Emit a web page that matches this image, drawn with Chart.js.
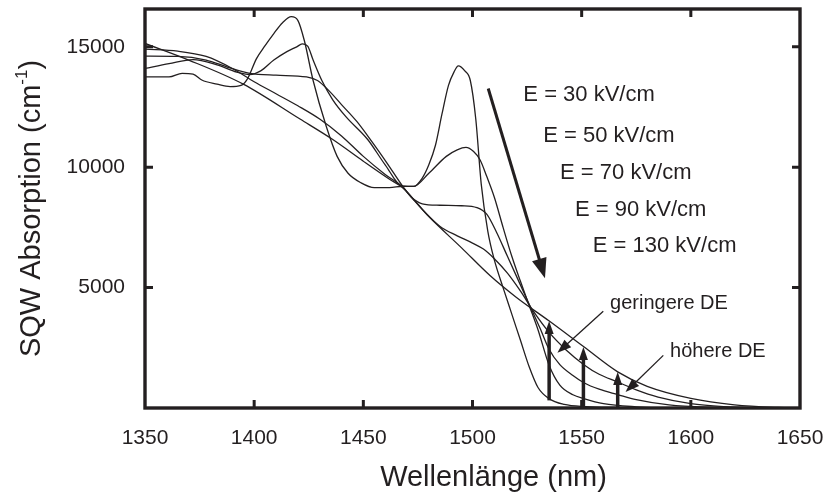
<!DOCTYPE html>
<html lang="de">
<head>
<meta charset="UTF-8">
<title>SQW Absorption</title>
<script src="https://cdn.jsdelivr.net/npm/chart.js@4"></script>
<style>
  html, body { margin: 0; padding: 0; background: #fff; }
  #wrap { position: relative; width: 830px; height: 496px; }
</style>
</head>
<body>
<div id="wrap"><canvas id="absChart"></canvas></div>
<script>
// wavelength (nm) / absorption (1/cm), one pair per field strength
const wl30 = [1350,1361,1367,1372,1376,1383,1389,1394,1397,1401,1405,1409,1413,1417,1420,1423,1427,1433,1438,1443,1449,1455,1462,1468,1473,1477,1480,1483,1486,1489,1491.5,1493.5,1496.5,1499,1501.5,1504,1507,1510,1514,1518,1522,1526,1530,1535,1542,1552,1565,1580];
const abs30 = [13750,13750,13900,13870,13620,13450,13350,13400,13680,14500,15050,15550,16000,16250,16100,15250,13600,11700,10450,9750,9350,9150,9150,9210,9200,9550,10100,10900,12200,13400,13950,14210,14000,13600,12000,9300,7350,6150,5000,3900,2800,1700,850,390,150,60,20,0];

const wl50 = [1350,1361,1372,1383,1392,1398,1403,1409,1415,1419.5,1422,1424.5,1427,1431,1436,1442,1452,1460,1468,1473,1480,1488,1493,1497,1500.5,1503.5,1506.5,1510,1514,1518,1522,1526,1530,1535,1540,1546,1551,1560,1575,1590];
const abs50 = [14100,14300,14470,14250,13950,13850,14000,14450,14800,15000,15120,15030,14450,13600,12800,12100,11150,10100,9210,9200,9750,10450,10720,10820,10650,10300,9620,8750,7500,6300,5250,4250,3250,1800,950,550,390,180,50,0];

const wl70 = [1350,1365,1378,1388,1398,1410,1424,1429,1434,1440,1447,1454,1461,1468,1472,1477,1485,1495,1502,1506.5,1511,1516,1521,1526,1531,1535,1540,1546,1551,1558,1566.5,1575,1590,1610,1630];
const abs70 = [14610,14600,14450,14150,13900,13820,13750,13600,13200,12600,11900,11050,10150,9210,8750,8480,8420,8400,8320,8050,7300,6300,5300,4300,3300,2450,1800,1350,1050,780,560,350,130,30,0];

const wl90 = [1350,1365,1378,1390,1400,1410,1420,1430,1440,1450,1460,1468,1473,1478,1485,1493,1500,1505,1510,1516,1522,1528,1535,1543,1551,1558,1566.5,1575,1585,1600,1615,1630,1645];
const abs90 = [14900,14820,14600,14100,13550,13050,12550,12000,11300,10450,9700,9180,8650,8150,7550,7150,6850,6600,6200,5600,4850,4000,3150,2400,1800,1400,1080,750,450,180,60,15,0];

const wl130 = [1350,1370,1395,1421,1436,1450,1462,1468,1480,1495,1508,1520,1535,1551,1566.5,1580,1600,1620,1640,1650];
const abs130 = [15140,14450,13450,12000,11150,10250,9500,9150,7950,6650,5500,4600,3620,2540,1500,900,400,130,20,0];

// axis ticks
const xTicks = [1350,1400,1450,1500,1550,1600,1650];
const yTicks = [5000,10000,15000];

// annotations, in data units
const fieldLabels = ['E = 30 kV/cm','E = 50 kV/cm','E = 70 kV/cm','E = 90 kV/cm','E = 130 kV/cm'];
const fieldLabelNm = [1523.3,1532.4,1540.1,1546.9,1555.1];
const fieldLabelAbs = [12755,11051,9501,7975,6479];
const trendArrowNm = [1507.2,1533.2];
const trendArrowAbs = [13270,5390];
const gapNm = [1535.1,1550.8,1566.5];
const gapFromAbs = [316,0,0];
const gapToAbs = [3612,2531,1492];
const noteLabels = ['geringere DE','höhere DE'];
const noteNm = [1563.0,1590.5];
const noteAbs = [4127,2116];
const pointerFromNm = [1559.9,1587.4];
const pointerFromAbs = [4015,2186];
const pointerToNm = [1538.9,1570.1];
const pointerToAbs = [2290,661];

const ink = '#231f20';
const font = '"Liberation Sans", Arial, Helvetica, sans-serif';

function toPoints(xs, ys) {
    return xs.map((x, i) => ({ x: x, y: ys[i] }));
}

function curve(xs, ys) {
    return {
        data: toPoints(xs, ys),
        borderColor: ink,
        borderWidth: 1.3,
        pointRadius: 0,
        fill: false,
        cubicInterpolationMode: 'monotone'
    };
}

function arrow(ctx, x1, y1, x2, y2, len, wid, lw) {
    const ang = Math.atan2(y2 - y1, x2 - x1);
    const bx = x2 - len * Math.cos(ang), by = y2 - len * Math.sin(ang);
    ctx.lineWidth = lw;
    ctx.beginPath();
    ctx.moveTo(x1, y1);
    ctx.lineTo(bx + Math.cos(ang) * 2, by + Math.sin(ang) * 2);
    ctx.stroke();
    ctx.beginPath();
    ctx.moveTo(x2, y2);
    ctx.lineTo(bx + Math.sin(ang) * wid / 2, by - Math.cos(ang) * wid / 2);
    ctx.lineTo(bx - Math.sin(ang) * wid / 2, by + Math.cos(ang) * wid / 2);
    ctx.closePath();
    ctx.fill();
}

// frame with inward ticks, axis titles and the annotations
const frameAndNotes = {
    id: 'frameAndNotes',
    afterDatasetsDraw(chart) {
        const { ctx, chartArea: a } = chart;
        const x = chart.scales.x, y = chart.scales.y;
        ctx.save();
        ctx.strokeStyle = ink;
        ctx.fillStyle = ink;
        ctx.lineCap = 'butt';

        ctx.lineWidth = 3.4;
        ctx.strokeRect(a.left, a.top, a.right - a.left, a.bottom - a.top);

        ctx.lineWidth = 3;
        ctx.beginPath();
        xTicks.slice(1, -1).forEach(v => {
            const px = x.getPixelForValue(v);
            ctx.moveTo(px, a.bottom); ctx.lineTo(px, a.bottom - 8);
            ctx.moveTo(px, a.top); ctx.lineTo(px, a.top + 8);
        });
        yTicks.forEach(v => {
            const py = y.getPixelForValue(v);
            ctx.moveTo(a.left, py); ctx.lineTo(a.left + 8, py);
            ctx.moveTo(a.right, py); ctx.lineTo(a.right - 8, py);
        });
        ctx.stroke();

        // trend arrow
        arrow(ctx, x.getPixelForValue(trendArrowNm[0]), y.getPixelForValue(trendArrowAbs[0]),
              x.getPixelForValue(trendArrowNm[1]), y.getPixelForValue(trendArrowAbs[1]), 20, 15, 3);

        // vertical gap arrows
        gapNm.forEach((nm, i) => {
            const px = x.getPixelForValue(nm);
            arrow(ctx, px, y.getPixelForValue(gapFromAbs[i]), px, y.getPixelForValue(gapToAbs[i]), 13, 9, 3.5);
        });

        // pointer arrows
        pointerFromNm.forEach((nm, i) => {
            arrow(ctx, x.getPixelForValue(nm), y.getPixelForValue(pointerFromAbs[i]),
                  x.getPixelForValue(pointerToNm[i]), y.getPixelForValue(pointerToAbs[i]), 14, 10, 1.3);
        });

        // labels
        ctx.textBaseline = 'alphabetic';
        ctx.textAlign = 'left';
        ctx.font = '22px ' + font;
        fieldLabels.forEach((t, i) => {
            ctx.fillText(t, x.getPixelForValue(fieldLabelNm[i]), y.getPixelForValue(fieldLabelAbs[i]));
        });
        ctx.font = '20px ' + font;
        noteLabels.forEach((t, i) => {
            ctx.fillText(t, x.getPixelForValue(noteNm[i]), y.getPixelForValue(noteAbs[i]));
        });

        // x title
        ctx.font = '29px ' + font;
        ctx.textAlign = 'center';
        ctx.fillText('Wellenlänge (nm)', (a.left + a.right) / 2 + 21, 486);

        // y title with superscript
        const main = 'SQW Absorption (cm', sup = '-1', tail = ')';
        ctx.font = '29px ' + font;
        const w1 = ctx.measureText(main).width, w3 = ctx.measureText(tail).width;
        ctx.font = '17px ' + font;
        const w2 = ctx.measureText(sup).width;
        const total = w1 + w2 + w3;
        ctx.translate(30, (a.top + a.bottom) / 2);
        ctx.rotate(-Math.PI / 2);
        ctx.textAlign = 'left';
        let sx = -total / 2;
        ctx.font = '29px ' + font;
        ctx.fillText(main, sx, 10);
        sx += w1;
        ctx.font = '17px ' + font;
        ctx.fillText(sup, sx, -3);
        sx += w2;
        ctx.font = '29px ' + font;
        ctx.fillText(tail, sx, 10);
        ctx.restore();
    }
};

new Chart(document.getElementById('absChart'), {
    type: 'line',
    data: {
        datasets: [
            curve(wl30, abs30),
            curve(wl50, abs50),
            curve(wl70, abs70),
            curve(wl90, abs90),
            curve(wl130, abs130)
        ]
    },
    options: {
        responsive: true,
        maintainAspectRatio: false,
        animation: false,
        layout: { padding: { top: 9, right: 30, left: 0, bottom: 0 } },
        plugins: { legend: { display: false }, tooltip: { enabled: false } },
        scales: {
            x: {
                type: 'linear',
                min: 1350,
                max: 1650,
                afterBuildTicks: s => { s.ticks = xTicks.map(v => ({ value: v })); },
                afterFit: s => { s.height = 88; s.paddingLeft = 0; s.paddingRight = 0; },
                grid: { display: false },
                border: { display: false },
                ticks: {
                    color: ink,
                    font: { family: font, size: 21 },
                    padding: 10,
                    maxRotation: 0,
                    autoSkip: false,
                    callback: v => String(v)
                }
            },
            y: {
                min: 0,
                max: 16570,
                afterBuildTicks: s => { s.ticks = yTicks.map(v => ({ value: v })); },
                afterFit: s => { s.width = 145; s.paddingTop = 0; s.paddingBottom = 0; },
                grid: { display: false },
                border: { display: false },
                ticks: {
                    color: ink,
                    font: { family: font, size: 21 },
                    padding: 12,
                    callback: v => String(v)
                }
            }
        }
    },
    plugins: [frameAndNotes]
});
</script>
</body>
</html>
